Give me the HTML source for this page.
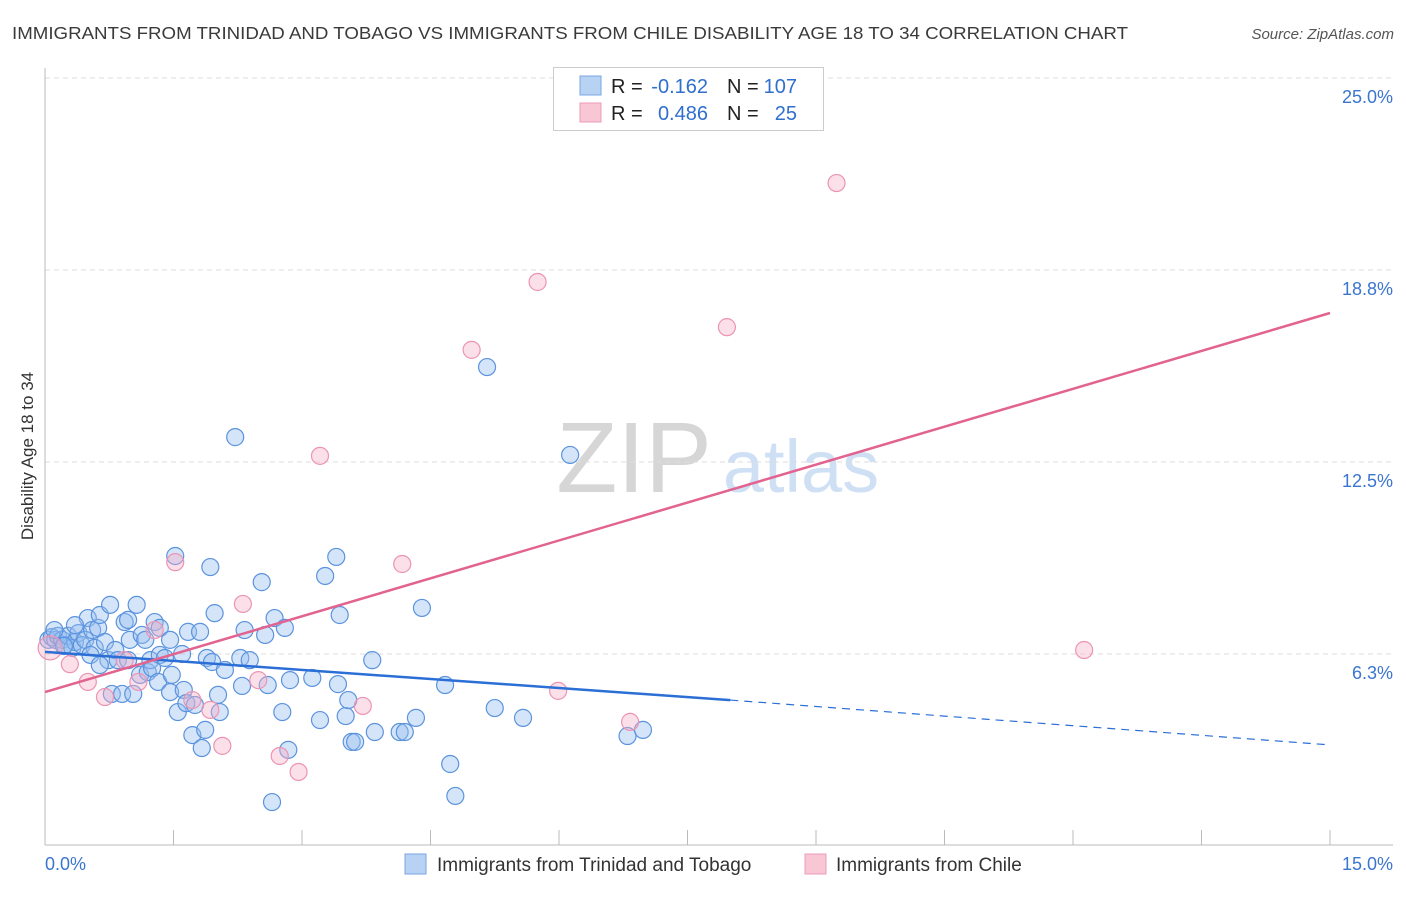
<!DOCTYPE html>
<html><head><meta charset="utf-8"><style>
body{margin:0;background:#fff;font-family:"Liberation Sans",sans-serif;}
svg text{font-family:"Liberation Sans",sans-serif;}
</style></head><body>
<svg id="chart" width="1406" height="892" viewBox="0 0 1406 892" xmlns="http://www.w3.org/2000/svg">
<text x="12" y="39" font-size="17.5" fill="#3a3a3a" textLength="1116" lengthAdjust="spacingAndGlyphs">IMMIGRANTS FROM TRINIDAD AND TOBAGO VS IMMIGRANTS FROM CHILE DISABILITY AGE 18 TO 34 CORRELATION CHART</text>
<text x="1394" y="39" font-size="15" fill="#555" font-style="italic" text-anchor="end">Source: ZipAtlas.com</text>
<g>
<text x="634" y="492" font-size="100" fill="#d6d6d6" text-anchor="middle" font-family="Liberation Serif, serif">ZIP</text>
<text x="801" y="492" font-size="74" fill="#cfe0f5" text-anchor="middle">atlas</text>
</g>
<g id="grid"></g>
<g id="axes"></g>
<g id="points"></g>
<g id="trends"></g>
<text transform="translate(33,456) rotate(-90)" font-size="17" fill="#333" text-anchor="middle">Disability Age 18 to 34</text>
<g font-size="20">
<rect x="553.5" y="67.5" width="270" height="63" fill="#fff" stroke="#ccc"/>
<rect x="580" y="76" width="21" height="19" fill="#b8d2f4" stroke="#7aa6e3"/>
<rect x="580" y="103" width="21" height="19" fill="#f8c6d5" stroke="#ec9bb6"/>
<text x="611" y="93" fill="#222">R =</text>
<text x="708" y="93" fill="#2f6fcf" text-anchor="end">-0.162</text>
<text x="727" y="93" fill="#222">N =</text>
<text x="797" y="93" fill="#2f6fcf" text-anchor="end">107</text>
<text x="611" y="120" fill="#222">R =</text>
<text x="708" y="120" fill="#2f6fcf" text-anchor="end">0.486</text>
<text x="727" y="120" fill="#222">N =</text>
<text x="797" y="120" fill="#2f6fcf" text-anchor="end">25</text>
</g>
<g>
<rect x="405" y="854" width="21" height="20" fill="#b8d2f4" stroke="#7aa6e3"/>
<text x="437" y="871" font-size="19" fill="#333">Immigrants from Trinidad and Tobago</text>
<rect x="805" y="854" width="21" height="20" fill="#f8c6d5" stroke="#ec9bb6"/>
<text x="836" y="871" font-size="19" fill="#333">Immigrants from Chile</text>
</g>
<text x="45" y="870" font-size="18" fill="#3a75d0">0.0%</text>
<text x="1393" y="870" font-size="18" fill="#3a75d0" text-anchor="end">15.0%</text>
</svg>
<script>
const blueX=[0.04,0.08,0.12,0.15,0.20,0.23,0.27,0.32,0.35,0.39,0.43,0.47,0.50,0.55,0.58,0.62,0.64,0.70,0.74,0.76,0.78,0.82,0.85,0.90,0.93,0.97,0.99,1.03,1.07,1.11,1.13,1.17,1.20,1.23,1.25,1.28,1.32,1.34,1.40,1.46,1.48,1.52,1.55,1.60,1.62,1.65,1.67,1.72,1.75,1.81,1.83,1.87,1.89,1.93,1.95,1.98,2.02,2.04,2.10,2.22,2.28,2.30,2.33,2.39,2.53,2.57,2.60,2.68,2.77,2.80,2.84,2.86,2.65,3.12,3.21,3.27,3.40,3.42,3.44,3.51,3.54,3.58,3.62,3.82,3.85,4.14,4.20,4.33,4.40,4.67,4.73,4.79,5.16,5.25,5.58,6.13,6.80,6.98,0.11,0.22,0.35,1.34,1.46,0.97,0.53,0.64];
const blueY=[6.71,6.80,6.71,6.84,6.71,6.54,6.84,6.45,6.64,6.93,6.54,6.71,7.42,7.03,6.45,7.10,7.52,6.64,6.05,7.85,4.95,6.38,6.05,4.95,7.29,6.05,6.71,4.95,7.85,5.57,6.87,6.71,5.66,6.05,5.79,7.29,5.34,6.22,6.12,5.01,5.57,9.44,4.36,6.25,5.08,4.65,6.97,3.61,4.59,6.97,3.19,3.78,6.12,9.08,5.99,7.58,4.92,4.36,5.73,13.31,6.12,5.21,7.03,6.05,8.59,6.87,5.24,7.42,4.36,7.10,3.13,5.40,1.43,5.47,4.10,8.79,9.41,5.27,7.52,4.23,4.75,3.39,3.39,6.05,3.71,3.71,3.71,4.17,7.75,5.24,2.67,1.63,15.59,4.49,4.17,12.73,3.58,3.78,7.03,6.51,7.19,7.10,6.71,7.36,6.22,5.89];
const pinkX=[0.06,0.29,0.50,0.70,0.93,1.09,1.28,1.52,1.72,1.93,2.07,2.31,2.49,2.74,2.96,3.21,3.71,4.17,4.98,5.75,5.99,6.83,7.96,9.24,12.13];
const pinkY=[6.45,5.92,5.34,4.85,6.05,5.34,7.03,9.24,4.75,4.43,3.26,7.88,5.40,2.93,2.41,12.70,4.56,9.18,16.15,18.36,5.05,4.04,16.89,21.58,6.38];
const blueTrendX=[0,8,15];
const blueTrendY=[6.32,4.75,3.29];
const pinkTrendX=[0,15];
const pinkTrendY=[5.01,17.35];
const yTicks=[25,18.75,12.5,6.25];
const yTickLabels=["25.0%","18.8%","12.5%","6.3%"];
const xTicks=[0,1.5,3,4.5,6,7.5,9,10.5,12,13.5,15];

const NS="http://www.w3.org/2000/svg";
const X0=45,X1=1330,Y0=846,YTOP=78;
const sx=v=>X0+(X1-X0)*v/15;
const sy=v=>Y0-(Y0-YTOP)*v/25;
function mk(tag,attrs,parent){const e=document.createElementNS(NS,tag);for(const k in attrs)e.setAttribute(k,attrs[k]);parent.appendChild(e);return e;}
const grid=document.getElementById('grid'),axes=document.getElementById('axes'),pts=document.getElementById('points'),tr=document.getElementById('trends');
yTicks.forEach((t,i)=>{
  const l=mk('line',{x1:X0,x2:1393,y1:sy(t),y2:sy(t),stroke:'#ddd','stroke-dasharray':'5,4'},grid);
  
  
  const tx=mk('text',{x:1393,y:sy(t)+25,'font-size':18,fill:'#3a75d0','text-anchor':'end'},grid);
  tx.textContent=yTickLabels[i];
  
  
});
const ax=mk('line',{x1:X0,x2:1393,y1:845,y2:845,stroke:'#bbb'},axes);


const ay=mk('line',{x1:X0,x2:X0,y1:68,y2:845,stroke:'#bbb'},axes);


xTicks.forEach(t=>{
  const l=mk('line',{x1:sx(t),x2:sx(t),y1:830,y2:845,stroke:'#bbb'},axes);
  
  
});
blueX.forEach((v,i)=>{
  const c=mk('circle',{cx:sx(v),cy:sy(blueY[i]),r:8.5,fill:'rgba(150,190,240,0.4)',stroke:'#5b93de','stroke-width':1.2},pts);
  
  
});
pinkX.forEach((v,i)=>{
  const c=mk('circle',{cx:sx(v),cy:sy(pinkY[i]),r:i===0?12:8.5,fill:'rgba(245,175,200,0.4)',stroke:'#ec94b3','stroke-width':1.2},pts);
  
  
});
const b1=mk('line',{x1:sx(blueTrendX[0]),y1:sy(blueTrendY[0]),x2:sx(blueTrendX[1]),y2:sy(blueTrendY[1]),stroke:'#2b6fd6','stroke-width':2.5},tr);


const b2=mk('line',{x1:sx(blueTrendX[1]),y1:sy(blueTrendY[1]),x2:sx(blueTrendX[2]),y2:sy(blueTrendY[2]),stroke:'#2b6fd6','stroke-width':1.2,'stroke-dasharray':'8,6'},tr);


const p1=mk('line',{x1:sx(pinkTrendX[0]),y1:sy(pinkTrendY[0]),x2:sx(pinkTrendX[1]),y2:sy(pinkTrendY[1]),stroke:'#e2638f','stroke-width':2.5},tr);


</script>
</body></html>
